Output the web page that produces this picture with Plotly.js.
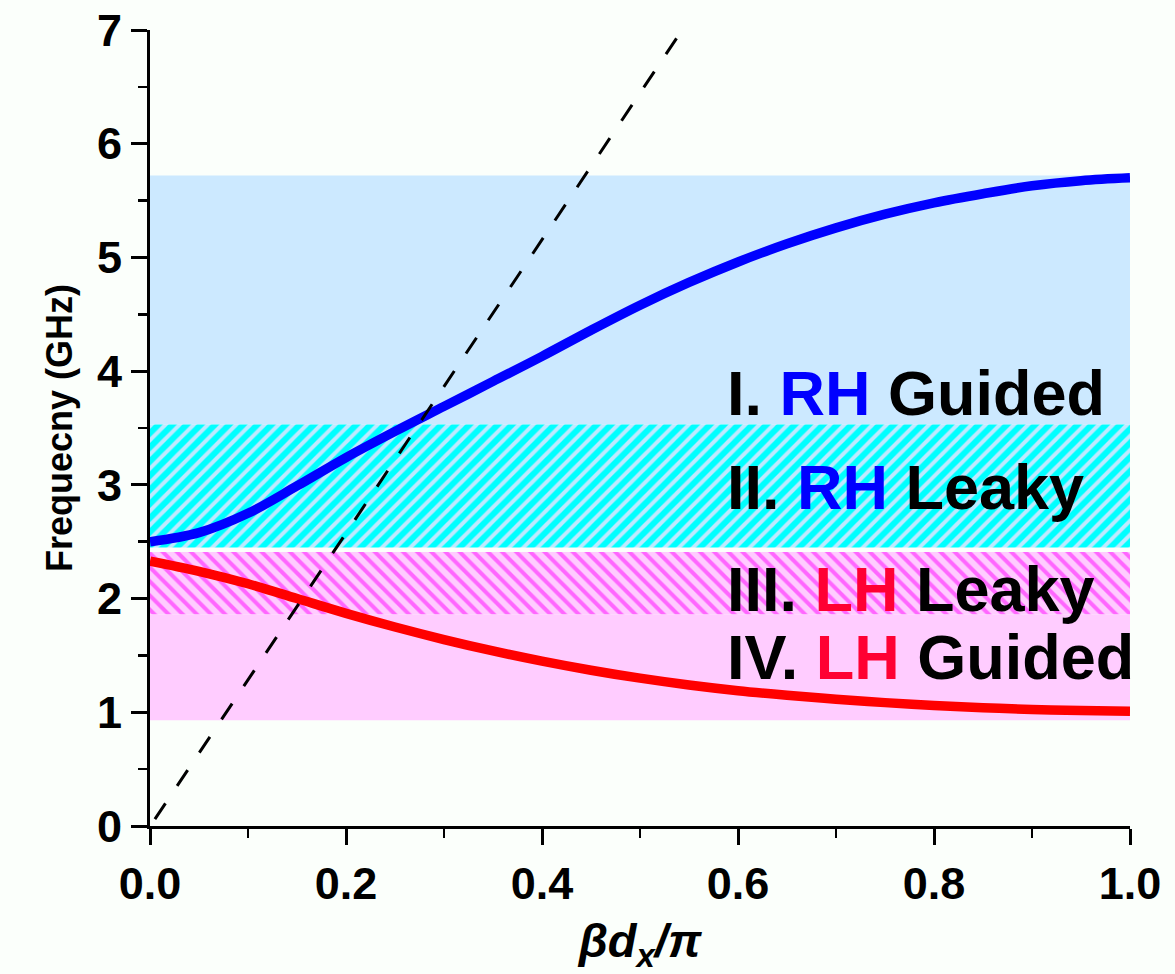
<!DOCTYPE html>
<html><head><meta charset="utf-8">
<script src="https://cdn.plot.ly/plotly-3.0.1.min.js"></script>
<style>html,body{margin:0;padding:0;background:#fbfffb;}#chart{width:1175px;height:974px;}</style>
</head><body><div id="chart"></div>
<script>
// Dispersion data
var beta = [0,0.05,0.1,0.15,0.2,0.25,0.3,0.35,0.4,0.45,0.5,0.55,0.6,0.65,0.7,0.75,0.8,0.85,0.9,0.95,1.0];
var rhFreq = [2.50,2.58,2.75,2.99,3.24,3.47,3.69,3.91,4.13,4.36,4.58,4.78,4.96,5.12,5.26,5.38,5.48,5.56,5.63,5.675,5.70];
var lhFreq = [2.33,2.24,2.13,2.00,1.87,1.75,1.64,1.54,1.45,1.37,1.30,1.24,1.19,1.15,1.115,1.085,1.06,1.04,1.025,1.015,1.01];
var lightX = [0.005,0.543];
var lightY = [0.06,7];
// Region bounds [bottom, top] in GHz
var regionNames = ["I. RH Guided","II. RH Leaky","III. LH Leaky","IV. LH Guided"];
var regionLow  = [3.53, 2.45, 1.86, 0.93];
var regionHigh = [5.72, 3.53, 2.41, 1.86];
var regionXEnd = 1.005;
var labelY = [3.81, 2.98, 2.08, 1.49];
var labelPrefix = ["I. ","II. ","III. ","IV. "];
var labelMid = ["RH","RH","LH","LH"];
var labelSuffix = [" Guided"," Leaky"," Leaky"," Guided"];

var regionStyles = [
  {fillcolor:"#cce9ff"},
  {fillcolor:"#00ffff", fillpattern:{shape:"/", bgcolor:"#00ffff", fgcolor:"#bfe9ff", size:10, solidity:0.4}},
  {fillcolor:"#ffccff", fillpattern:{shape:"\\", bgcolor:"#ffccff", fgcolor:"#ff66ff", size:10, solidity:0.4}},
  {fillcolor:"#ffccff"}
];

var traces = [];
for (var i = 0; i < regionNames.length; i++) {
  var t = {
    x:[0, regionXEnd, regionXEnd, 0, 0],
    y:[regionLow[i], regionLow[i], regionHigh[i], regionHigh[i], regionLow[i]],
    mode:"lines", fill:"toself", line:{width:0}, hoverinfo:"skip", showlegend:false,
    fillcolor: regionStyles[i].fillcolor
  };
  if (regionStyles[i].fillpattern) t.fillpattern = regionStyles[i].fillpattern;
  traces.push(t);
}
traces.push({x:beta, y:rhFreq, mode:"lines", line:{color:"#0000ff", width:9.5, shape:"spline", smoothing:1}, showlegend:false});
traces.push({x:beta, y:lhFreq, mode:"lines", line:{color:"#ff0000", width:9.5, shape:"spline", smoothing:1}, showlegend:false});
traces.push({x:lightX, y:lightY, mode:"lines", line:{color:"#000000", width:3, dash:"19px,21px"}, showlegend:false});

var annotations = [];
for (var j = 0; j < regionNames.length; j++) {
  var col = labelMid[j] === "RH" ? "#0000ff" : "#ff0033";
  annotations.push({
    x:0.587, y:labelY[j], xref:"x", yref:"y", xanchor:"left", yanchor:"middle", showarrow:false,
    text: labelPrefix[j] + "<span style='color:" + col + "'>" + labelMid[j] + "</span>" + labelSuffix[j],
    font:{family:"Liberation Sans, Arial, sans-serif", size:63, color:"#000000", weight:"bold"}
  });
}

var tickFont = {family:"Liberation Sans, Arial, sans-serif", size:45, color:"#000", weight:"bold"};
var layout = {
  width:1175, height:974,
  margin:{l:150, r:45, t:30, b:148},
  paper_bgcolor:"#fbfffb", plot_bgcolor:"#fbfffb",
  xaxis:{
    range:[0,1.0], showgrid:false, zeroline:false, showline:true, linecolor:"#000", linewidth:3,
    ticks:"outside", ticklen:16, tickwidth:3, tickcolor:"#000", dtick:0.2, tick0:0, tickformat:".1f",
    minor:{ticks:"outside", ticklen:9, tickwidth:2.5, tickcolor:"#000", dtick:0.1, showgrid:false},
    tickfont:tickFont,
    title:{text:"<i>βd<sub>x</sub>/π</i>", font:{family:"Liberation Sans, Arial, sans-serif", size:47, color:"#000", weight:"bold"}, standoff:18}
  },
  yaxis:{
    range:[0,7], showgrid:false, zeroline:false, showline:true, linecolor:"#000", linewidth:3,
    ticks:"outside", ticklen:16, tickwidth:3, tickcolor:"#000", dtick:1, tick0:0,
    minor:{ticks:"outside", ticklen:9, tickwidth:2.5, tickcolor:"#000", dtick:0.5, showgrid:false},
    tickfont:tickFont,
    title:{text:"Frequecny (GHz)", font:{family:"Liberation Sans, Arial, sans-serif", size:36, color:"#000", weight:"bold"}, standoff:14}
  },
  annotations:annotations,
  showlegend:false
};
Plotly.newPlot("chart", traces, layout, {staticPlot:true, displayModeBar:false});
</script></body></html>
